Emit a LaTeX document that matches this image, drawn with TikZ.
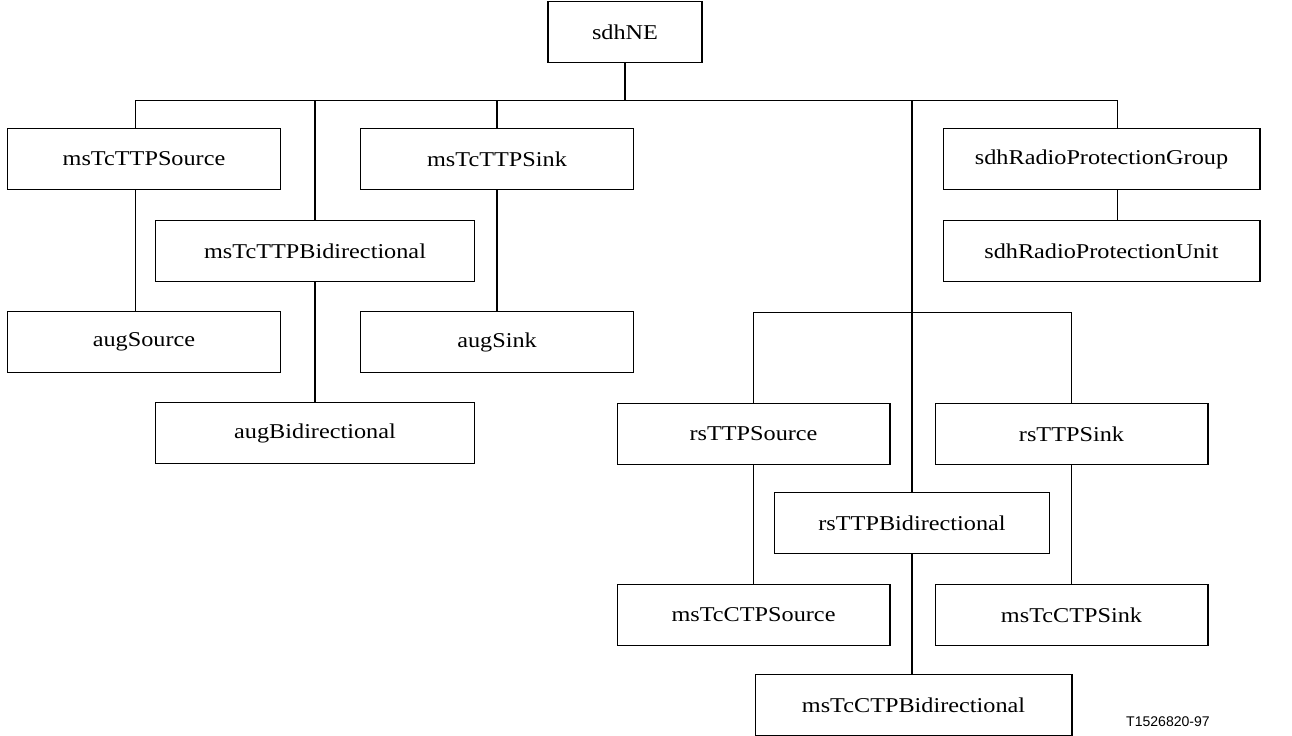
\documentclass[tikz,border=0pt]{standalone}
\usepackage{fontspec}
\setmainfont{Liberation Serif}[FakeStretch=1.15]
\newfontfamily\labelfont{Liberation Sans}
\usetikzlibrary{positioning}

\begin{document}
\begin{tikzpicture}[
x=0.02cm,y=-0.02cm,
ClassBox/.style={draw,line width=0.6pt,minimum height=1.22cm,inner sep=0pt,font=\fontsize{12}{14}\selectfont},
NarrowBox/.style={ClassBox,minimum width=5.46cm},
WideBox/.style={ClassBox,minimum width=6.4cm},
ThinLink/.style={draw,line width=0.6pt},
ThickLink/.style={draw,line width=1.2pt}
]
\useasboundingbox (0,0) rectangle (1292,736);

\node[ClassBox,minimum width=3.08cm] (sdhNE) at (625,32) {sdhNE};

\node[NarrowBox] (ttpSource) at (144,159) {msTcTTPSource};
\node[NarrowBox] (ttpSink) at (497,159) {msTcTTPSink};
\node[ClassBox,minimum width=6.34cm] (rpGroup) at (1101.5,159) {sdhRadioProtectionGroup};
\node[WideBox] (ttpBidir) at (315,251) {msTcTTPBidirectional};
\node[ClassBox,minimum width=6.34cm] (rpUnit) at (1101.5,251) {sdhRadioProtectionUnit};
\node[NarrowBox] (augSource) at (144,342) {augSource};
\node[NarrowBox] (augSink) at (497,342) {augSink};
\node[WideBox] (augBidir) at (315,433) {augBidirectional};

\node[NarrowBox] (rsSource) at (753.5,434) {rsTTPSource};
\node[NarrowBox] (rsSink) at (1071.5,434) {rsTTPSink};
\node[ClassBox,minimum width=5.5cm] (rsBidir) at (912,523) {rsTTPBidirectional};
\node[NarrowBox] (ctpSource) at (753.5,615) {msTcCTPSource};
\node[NarrowBox] (ctpSink) at (1071.5,615) {msTcCTPSink};
\node[ClassBox,minimum width=6.34cm] (ctpBidir) at (913.5,705) {msTcCTPBidirectional};

\node[font=\labelfont\fontsize{8}{9}\selectfont] (figId) at (1168,722) {T1526820-97};

\coordinate (busL) at (135.5,100.5);
\coordinate (busR) at (1117.5,100.5);
\coordinate (rsBus) at (912,312.5);

% main bus
\draw[ThinLink] (busL) -- (busR);
\draw[ThickLink] (sdhNE.south) -- (sdhNE.south |- busL);

% msTc branch
\draw[ThinLink] (busL) -- (busL |- ttpSource.north);
\draw[ThinLink] (ttpSource.south -| busL) -- (augSource.north -| busL);
\draw[ThickLink] (ttpBidir.north |- busL) -- (ttpBidir.north);
\draw[ThickLink] (ttpBidir.south) -- (augBidir.north);
\draw[ThickLink] (ttpSink.north |- busL) -- (ttpSink.north);
\draw[ThickLink] (ttpSink.south) -- (augSink.north);

% radio protection
\draw[ThinLink] (busR) -- (busR |- rpGroup.north);
\draw[ThinLink] (rpGroup.south -| busR) -- (rpUnit.north -| busR);

% rs branch
\draw[ThickLink] (rsBidir.north |- busL) -- (rsBidir.north);
\draw[ThinLink] (rsSource.north) |- (rsBus) -| (rsSink.north);
\draw[ThinLink] (rsSource.south) -- (ctpSource.north);
\draw[ThinLink] (rsSink.south) -- (ctpSink.north);
\draw[ThickLink] (rsBidir.south) -- (rsBidir.south |- ctpBidir.north);

\end{tikzpicture}
\end{document}
